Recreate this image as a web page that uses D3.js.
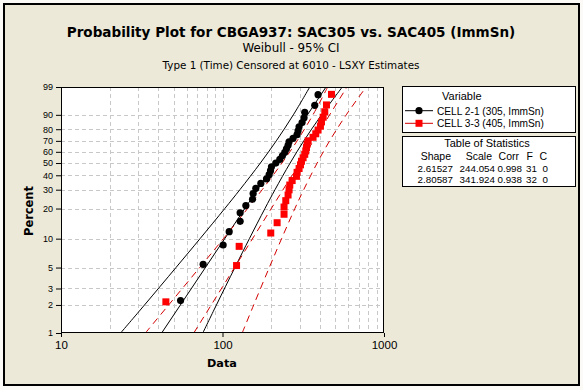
<!DOCTYPE html>
<html><head><meta charset="utf-8">
<script src="https://cdn.jsdelivr.net/npm/d3@7"></script>
<style>body{margin:0;background:#fbfaf6;} svg{display:block;}</style>
</head><body><svg id="c" width="583" height="390"></svg>
<script>
// ---------- data ----------
const percentTicks = [1,2,3,5,10,20,30,40,50,60,70,80,90,99];
const percentGrid = [2,3,5,10,20,30,40,50,60,70,80,90];
const xTicks = [10,100,1000];
const xGrid = [20,30,40,50,60,70,80,90,100,200,300,400,500,600,700,800,900];

const seriesNames = ["CELL 2-1 (305, ImmSn)", "CELL 3-3 (405, ImmSn)"];

const cell21X = [55.0,75.9,100.9,110,128.6,128.6,139.5,153.5,154.8,160.8,172.7,187.3,194.4,198.3,201,
  213.8,226.4,235,243,249,254.7,258.4,273.5,289.5,293.8,297.9,311,319.9,323,372.5,390.6];
const cell21P = [2.23,5.41,8.60,11.78,14.97,18.15,21.34,24.52,27.71,30.89,34.08,37.26,40.45,43.63,46.82,
  50.00,53.18,56.37,59.55,62.74,65.92,69.11,72.29,75.48,78.66,81.85,85.03,88.22,91.40,94.59,97.77];

const cell33X = [44.6,122.2,126.8,199,217.9,240.5,240.5,246.5,254.7,258.4,261,270,287,289.6,298,304,
  308.3,315.5,323,327.9,331,334,339,363.6,378,390.6,404,410,420,429.8,440.4,472.9];
const cell33P = [2.16,5.25,8.33,11.42,14.51,17.59,20.68,23.77,26.85,29.94,33.02,36.11,39.20,42.28,45.37,48.46,
  51.54,54.63,57.72,60.80,63.89,66.98,70.06,73.15,76.23,79.32,82.41,85.49,88.58,91.67,94.75,97.84];

// fitted lines (endpoints at 1% and 99%)
const fitP = [1, 99];
const fit21X = [42.0, 437.6];
const fit33X = [66.4, 589.8];

// confidence bands
const ciP = [1,2,5,10,20,30,50,70,90,99];
const ci21Lo = [23.4,32.9,51.5,72.6,103.3,128.1,171.6,215.3,274.6,347.1];
const ci21Hi = [75.5,91.7,119.3,146.7,183.1,211.4,262.3,318.8,410.7,551.9];
const ci33Lo = [33.3,46.4,72.2,101.3,143.0,176.1,233.5,289.7,363.1,448.1];
const ci33Hi = [132.4,156.0,194.8,232.2,280.6,318.3,385.6,460.6,583.9,775.3];

const statHeaders = ["Shape","Scale","Corr","F","C"];
const statRows = [["2.61527","244.054","0.998","31","0"],["2.80587","341.924","0.938","32","0"]];

// ---------- layout ----------
const L = 61, R = 384, T = 87, B = 333;
const FONT = "'DejaVu Sans', Verdana, sans-serif";
const SMALL = "'Liberation Sans', Arial, sans-serif";
const BLACK = "#000000", RED = "#ff0000", REDLINE = "#d40000";

const svg = d3.select("#c");
svg.append("rect").attr("x",4).attr("y",4).attr("width",575).attr("height",381)
  .attr("fill","#ece9d8").attr("stroke","#000").attr("stroke-width",2);

const x = d3.scaleLog().domain([10,1000]).range([L,R]);
const wOf = p => Math.log(-Math.log(1 - p/100));
const yLin = d3.scaleLinear().domain([wOf(1), wOf(99)]).range([B,T]);
const y = p => yLin(wOf(p));

function fitText(sel, target) {
  const n = sel.node();
  const fs = parseFloat(sel.attr("font-size"));
  const len = n.getComputedTextLength();
  if (len > 0) sel.attr("font-size", (fs*target/len).toFixed(2));
  return sel;
}

svg.append("rect").attr("x",L).attr("y",T).attr("width",R-L).attr("height",B-T).attr("fill","#fff");

const defs = svg.append("defs");
defs.append("clipPath").attr("id","clip").append("rect")
  .attr("x",L).attr("y",T).attr("width",R-L).attr("height",B-T);

// grid
const grid = svg.append("g").attr("stroke","#c8c8c8").attr("stroke-width",1).attr("stroke-dasharray","4,3");
grid.selectAll(".gy").data(percentGrid).join("line")
  .attr("x1",L).attr("x2",R).attr("y1",d=>Math.round(y(d))+0.5).attr("y2",d=>Math.round(y(d))+0.5);
grid.selectAll(".gx").data(xGrid).join("line")
  .attr("y1",T).attr("y2",B).attr("x1",d=>Math.round(x(d))+0.5).attr("x2",d=>Math.round(x(d))+0.5);

// lines
const plot = svg.append("g").attr("clip-path","url(#clip)");
const lineGen = d3.line().x(d=>x(d[0])).y(d=>y(d[1])).curve(d3.curveCatmullRom.alpha(0.5));
const zip = (xs, ps) => xs.map((v,i)=>[v, ps[i]]);

[ci21Lo, ci21Hi].forEach(a => plot.append("path").attr("d", lineGen(zip(a,ciP)))
  .attr("fill","none").attr("stroke",BLACK).attr("stroke-width",1));
plot.append("path").attr("d", lineGen(zip(fit21X,fitP))).attr("fill","none").attr("stroke",BLACK).attr("stroke-width",1);

[ci33Lo, ci33Hi].forEach(a => plot.append("path").attr("d", lineGen(zip(a,ciP)))
  .attr("fill","none").attr("stroke",REDLINE).attr("stroke-width",1).attr("stroke-dasharray","7,5"));
plot.append("path").attr("d", lineGen(zip(fit33X,fitP))).attr("fill","none").attr("stroke",REDLINE)
  .attr("stroke-width",1).attr("stroke-dasharray","7,5");

// points
plot.selectAll(".pb").data(zip(cell21X,cell21P)).join("circle")
  .attr("cx",d=>x(d[0])).attr("cy",d=>y(d[1])).attr("r",3.6).attr("fill",BLACK);
plot.selectAll(".pr").data(zip(cell33X,cell33P)).join("rect")
  .attr("x",d=>x(d[0])-3.5).attr("y",d=>y(d[1])-3.5).attr("width",7).attr("height",7).attr("fill",RED);

// border
svg.append("rect").attr("x",L+0.5).attr("y",T+0.5).attr("width",R-L-1).attr("height",B-T-1)
  .attr("fill","none").attr("stroke","#000").attr("stroke-width",1);

// axes
const yAxis = d3.axisLeft(yLin).tickValues(percentTicks.map(wOf))
  .tickFormat((d,i)=>percentTicks[i]).tickSize(5).tickPadding(3);
const ga = svg.append("g").attr("transform",`translate(${L},0)`).call(yAxis);
ga.select(".domain").remove();
ga.selectAll("text").attr("font-family",SMALL).attr("font-size",9).attr("fill","#000");
ga.selectAll("line").attr("stroke","#000");

const xAxis = d3.axisBottom(x).tickValues(xTicks).tickFormat(d3.format("d")).tickSize(4).tickPadding(4);
const gx = svg.append("g").attr("transform",`translate(0,${B})`).call(xAxis);
gx.select(".domain").remove();
gx.selectAll("text").attr("font-family",SMALL).attr("font-size",11.5).attr("fill","#000");
gx.selectAll("line").attr("stroke","#000");

// titles
const t1 = svg.append("text").attr("x",291).attr("y",37).attr("text-anchor","middle")
  .attr("font-family",FONT).attr("font-weight","bold").attr("font-size",14).text("Probability Plot for CBGA937: SAC305 vs. SAC405 (ImmSn)");
fitText(t1, 449);
const t2 = svg.append("text").attr("x",291).attr("y",52).attr("text-anchor","middle")
  .attr("font-family",FONT).attr("font-size",11).text("Weibull - 95% CI");
fitText(t2, 97);
const t3 = svg.append("text").attr("x",291).attr("y",69).attr("text-anchor","middle")
  .attr("font-family",FONT).attr("font-size",11).text("Type 1 (Time) Censored at 6010 - LSXY Estimates");
fitText(t3, 257);

const xl = svg.append("text").attr("x",222).attr("y",367).attr("text-anchor","middle")
  .attr("font-family",FONT).attr("font-weight","bold").attr("font-size",12).text("Data");
fitText(xl, 30);
const yl = svg.append("text").attr("transform","translate(33,211) rotate(-90)").attr("text-anchor","middle")
  .attr("font-family",FONT).attr("font-weight","bold").attr("font-size",12).text("Percent");
fitText(yl, 50);

// legend
const fsL = 11;
const lg = svg.append("g").attr("font-family",SMALL).attr("font-size",fsL);
lg.append("rect").attr("x",402.5).attr("y",86.5).attr("width",173).attr("height",46)
  .attr("fill","#fff").attr("stroke","#000");
lg.append("rect").attr("x",402.5).attr("y",136.5).attr("width",173).attr("height",50)
  .attr("fill","#fff").attr("stroke","#000");
lg.append("text").attr("x",442).attr("y",100).text("Variable");
const legY = [110.7, 123.3];
seriesNames.forEach((nm,i)=>{
  const c = i===0 ? BLACK : REDLINE;
  lg.append("line").attr("x1",405).attr("x2",433).attr("y1",legY[i]).attr("y2",legY[i]).attr("stroke",c).attr("stroke-width",1);
  if (i===0) lg.append("circle").attr("cx",419).attr("cy",legY[i]).attr("r",3.6).attr("fill",BLACK);
  else lg.append("rect").attr("x",415.5).attr("y",legY[i]-3.5).attr("width",7).attr("height",7).attr("fill",RED);
  const tt = lg.append("text").attr("x",437).attr("y",legY[i]+4).attr("font-size",fsL).text(nm);
  fitText(tt, 107);
});

lg.append("text").attr("x",487).attr("y",147).attr("text-anchor","middle").text("Table of Statistics");
const hdrX = [451,492,519,533,547];
const valX = [453,495,522,537,548];
statHeaders.forEach((h,i)=>lg.append("text").attr("x",hdrX[i]).attr("y",160).attr("text-anchor","end")
  .attr("font-size",10.5).text(h));
statRows.forEach((row,r)=>row.forEach((v,i)=>lg.append("text").attr("x",valX[i]).attr("y",172+r*10.5)
  .attr("text-anchor","end").attr("font-size",9.8).text(v)));
</script></body></html>
